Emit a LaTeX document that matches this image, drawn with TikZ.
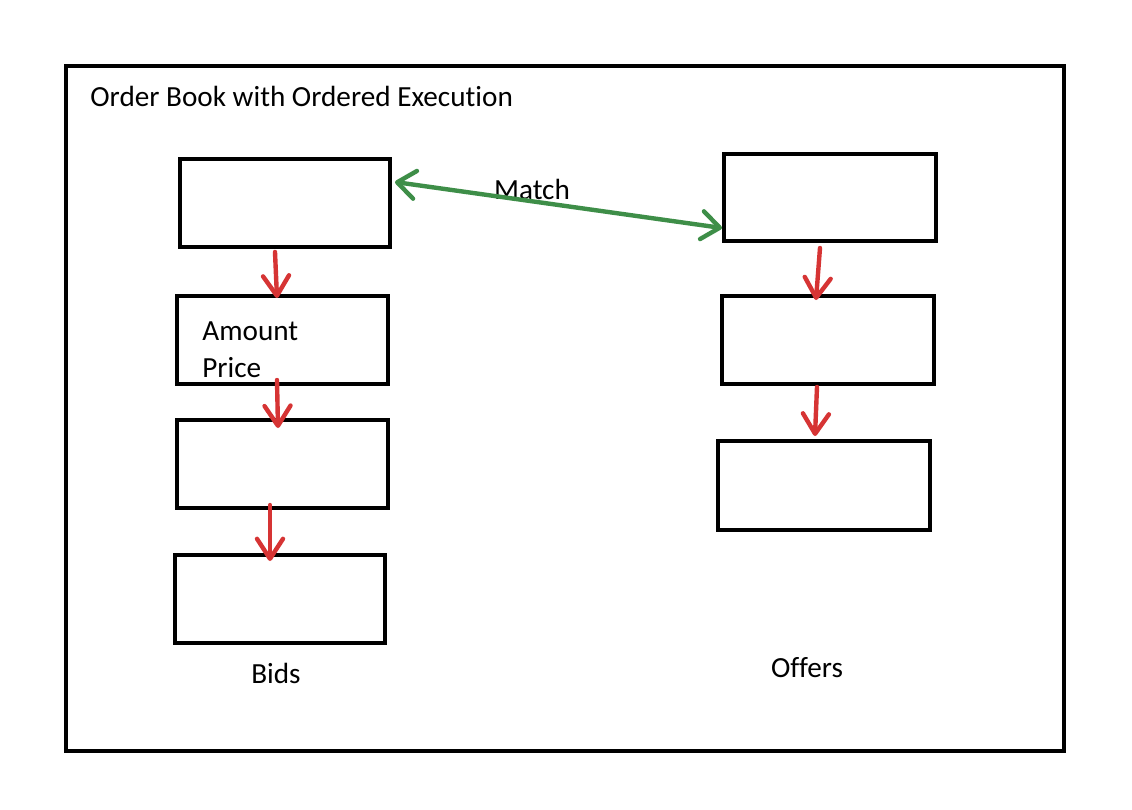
\documentclass[tikz,border=0pt]{standalone}
\usepackage{fontspec}
\setmainfont{Carlito}[Ligatures={NoCommon}]
\usetikzlibrary{arrows.meta}
\definecolor{arrred}{HTML}{D63434}
\definecolor{arrgreen}{HTML}{3E8E48}
\begin{document}
\begin{tikzpicture}[x=0.5pt,y=-0.5pt,
  box/.style={draw, line width=2pt, minimum width=105pt, minimum height=44pt, inner sep=0pt},
  redarr/.style={draw=arrred, line width=2.2pt, line cap=round, -{Straight Barb[length=10pt,width=13pt,line cap=round,line join=round]}},
  greenarr/.style={draw=arrgreen, line width=2.2pt, line cap=round, {Straight Barb[length=9pt,width=14pt,line cap=round,line join=round]}-{Straight Barb[length=9pt,width=14pt,line cap=round,line join=round]}},
  lbl/.style={font=\fontsize{14.6}{17}\selectfont, inner sep=0pt}]
\useasboundingbox (0,0) rectangle (1132,810);
\fill[white] (0,0) rectangle (1132,810);
\node[draw, line width=2pt, minimum width=499pt, minimum height=342.5pt, inner sep=0pt] (frame) at (565,408.5) {};
\node[lbl, anchor=west] (title) at (90,96) {Order Book with Ordered Execution};

\node[box] (b1) at (285,203) {};
\node[box, minimum width=105.5pt] (b2) at (282.5,340) {};
\node[box, minimum width=105.5pt] (b3) at (282.5,464) {};
\node[box] (b4) at (280,599) {};
\node[box, minimum width=106pt, minimum height=43.5pt] (o1) at (830,197.5) {};
\node[box, minimum width=106pt] (o2) at (828,340) {};
\node[box, minimum width=106pt, minimum height=44.5pt] (o3) at (824,485.5) {};

\node[lbl, anchor=west] (amt) at (202,331) {Amount};
\node[lbl, anchor=west] (prc) at (202,368) {Price};
\node[lbl] (bids) at (276,673) {Bids};
\node[lbl] (offers) at (807,668) {Offers};
\node[lbl] (match) at (532,189) {Match};

\draw[redarr] ([shift={(-10,3)}]b1.south) -- ([shift={(-5.5,4)}]b2.north);
\draw[redarr] ([shift={(-5.5,-6)}]b2.south) -- ([shift={(-4.5,10)}]b3.north);
\draw[redarr] ([shift={(-12.5,-5)}]b3.south) -- ([shift={(-10,8)}]b4.north);
\draw[redarr] ([shift={(-10,5)}]o1.south) -- ([shift={(-12,6)}]o2.north);
\draw[redarr] ([shift={(-11,1)}]o2.south) -- ([shift={(-9,-3)}]o3.north);
\draw[greenarr] ([shift={(3,-21)}]b1.east) -- ([shift={(0,30.5)}]o1.west);
\end{tikzpicture}
\end{document}
